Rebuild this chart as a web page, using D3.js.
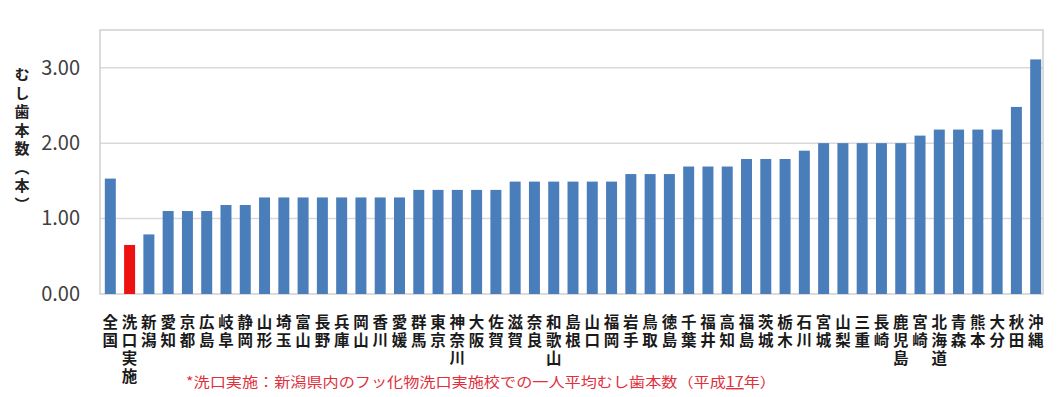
<!DOCTYPE html>
<html>
<head>
<meta charset="utf-8">
<script src="https://cdn.jsdelivr.net/npm/d3@7"></script>
<style>
  html, body { margin: 0; padding: 0; background: #fff; }
  svg { display: block; }
  text { font-family: "Noto Sans CJK JP", "Noto Sans", sans-serif; }
</style>
</head>
<body>
<svg id="chart" width="1064" height="397"></svg>
<script>
// 都道府県別 一人平均むし歯本数
const categories = ["全国","洗口実施","新潟","愛知","京都","広島","岐阜","静岡","山形","埼玉",
  "富山","長野","兵庫","岡山","香川","愛媛","群馬","東京","神奈川","大阪",
  "佐賀","滋賀","奈良","和歌山","島根","山口","福岡","岩手","鳥取","徳島",
  "千葉","福井","高知","福島","茨城","栃木","石川","宮城","山梨","三重",
  "長崎","鹿児島","宮崎","北海道","青森","熊本","大分","秋田","沖縄"];
const values = [1.53,0.65,0.79,1.1,1.1,1.1,1.18,1.18,1.28,1.28,
  1.28,1.28,1.28,1.28,1.28,1.28,1.38,1.38,1.38,1.38,
  1.38,1.49,1.49,1.49,1.49,1.49,1.49,1.59,1.59,1.59,
  1.69,1.69,1.69,1.79,1.79,1.79,1.9,2.0,2.0,2.0,
  2.0,2.0,2.1,2.18,2.18,2.18,2.18,2.48,3.11];
const highlighted = ["洗口実施"];
const yTicks = [0, 1, 2, 3];
const yTitle = "むし歯本数（本）";
const footnote = ["*洗口実施：新潟県内のフッ化物洗口実施校での一人平均むし歯本数（平成", "17", "年）"];

const data = categories.map((c, i) => ({ name: c, value: values[i] }));

const svg = d3.select("#chart");
const plot = { left: 100, right: 1043, top: 30, bottom: 294 };

const x = d3.scaleBand()
  .domain(categories)
  .range([plot.left, 1046])
  .paddingInner(0.43)
  .paddingOuter(0.25);

const y = d3.scaleLinear()
  .domain([0, 3.5])
  .range([plot.bottom, plot.top]);

// gridlines
svg.append("g")
  .selectAll("line")
  .data(yTicks.filter(d => d > 0))
  .join("line")
  .attr("x1", plot.left).attr("x2", plot.right)
  .attr("y1", d => y(d)).attr("y2", d => y(d))
  .attr("stroke", "#d9d9d9").attr("stroke-width", 1.5);

// plot frame
svg.append("rect")
  .attr("x", plot.left).attr("y", plot.top)
  .attr("width", plot.right - plot.left).attr("height", plot.bottom - plot.top)
  .attr("fill", "none").attr("stroke", "#cfcfcf").attr("stroke-width", 1.5);

// bars
svg.append("g")
  .selectAll("rect")
  .data(data)
  .join("rect")
  .attr("x", d => x(d.name))
  .attr("width", x.bandwidth())
  .attr("y", d => y(d.value))
  .attr("height", d => y(0) - y(d.value))
  .attr("fill", d => highlighted.includes(d.name) ? "#ee1111" : "#4a7ebb");

// y axis labels
const yAxis = svg.append("g")
  .attr("transform", `translate(${plot.left - 20},0)`)
  .call(d3.axisLeft(y).tickValues(yTicks).tickFormat(d3.format(".2f")).tickSize(0).tickPadding(0));
yAxis.select(".domain").remove();
yAxis.selectAll("text")
  .attr("font-family", "'Liberation Sans', Arial, sans-serif")
  .attr("font-size", 20)
  .attr("fill", "#404040");

// y axis title, vertical
svg.append("text")
  .attr("x", 22).attr("y", 67)
  .attr("font-size", 15).attr("font-weight", "bold")
  .attr("fill", "#222")
  .style("writing-mode", "vertical-rl")
  .style("text-orientation", "mixed")
  .style("letter-spacing", "3.5px")
  .text(yTitle);

// category labels: one character per row, stacked under each bar
const chars = data.flatMap(d =>
  Array.from(d.name).map((ch, i) => ({ ch, row: i, cx: x(d.name) + x.bandwidth() / 2 })));
svg.append("g")
  .selectAll("text")
  .data(chars)
  .join("text")
  .attr("x", d => d.cx)
  .attr("y", d => 314 + d.row * 18)
  .attr("font-size", 15.5).attr("font-weight", "bold")
  .attr("fill", "#1a1a1a")
  .style("writing-mode", "vertical-rl")
  .style("text-orientation", "upright")
  .text(d => d.ch);

// footnote
const note = svg.append("text")
  .attr("x", 186).attr("y", 387)
  .attr("font-size", 14)
  .attr("fill", "#e0303c")
  .attr("textLength", 590)
  .attr("lengthAdjust", "spacingAndGlyphs");
note.selectAll("tspan")
  .data(footnote)
  .join("tspan")
  .style("text-decoration", (d, i) => i === 1 ? "underline" : null)
  .text(d => d);
</script>
</body>
</html>
